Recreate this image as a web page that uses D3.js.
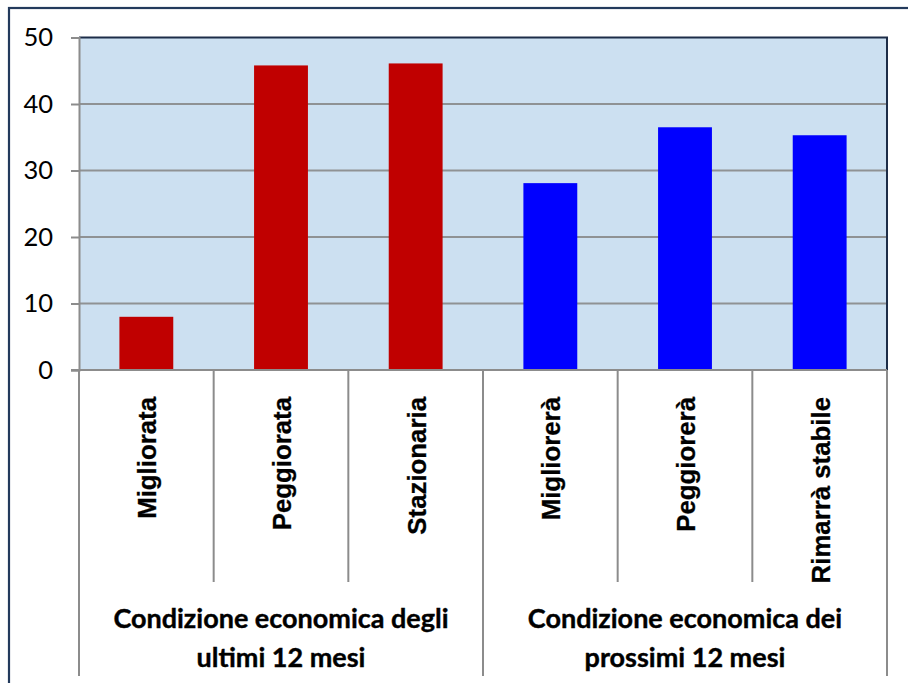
<!DOCTYPE html>
<html><head><meta charset="utf-8">
<script src="https://cdn.jsdelivr.net/npm/d3@7"></script>
<style>body{margin:0;background:#fff}svg{display:block}</style>
</head><body>
<script>
const categories = ["Migliorata","Peggiorata","Stazionaria","Migliorerà","Peggiorerà","Rimarrà stabile"];
const values = [8.0, 45.8, 46.1, 28.1, 36.5, 35.3];
const groupOf = [0,0,0,1,1,1];
const groupLabels = [["Condizione economica degli","ultimi 12 mesi"],["Condizione economica dei","prossimi 12 mesi"]];
const groupColors = ["#c00000","#0000ff"];
const yTicks = [0,10,20,30,40,50];

const W=908,H=683;
const svg=d3.select("body").append("svg").attr("width",W).attr("height",H);
svg.append("rect").attr("x",9).attr("y",8).attr("width",940).attr("height",720)
  .attr("fill","none").attr("stroke","#233a5c").attr("stroke-width",2.2);

const L=79,R=887,T=37.5,B=370;
const y=d3.scaleLinear().domain([0,50]).range([B,T]);
const xCat=d3.scaleBand().domain(categories).range([L,R]).padding(0);
const xBar=d3.scaleBand().domain(categories).range([L,R]).paddingInner(0.6).paddingOuter(0.3);

svg.append("rect").attr("x",L).attr("y",T).attr("width",R-L).attr("height",B-T).attr("fill","#cce0f1");
// grid
svg.append("g").selectAll("line").data(yTicks.filter(d=>d>0&&d<50)).join("line")
  .attr("x1",L).attr("x2",R).attr("y1",d=>y(d)).attr("y2",d=>y(d))
  .attr("stroke","#8f9294").attr("stroke-width",2);
// plot border top/right
svg.append("path").attr("d",`M${L},${y(50)}H${R}V${B}`).attr("fill","none").attr("stroke","#1d2d48").attr("stroke-width",2);
// bars
svg.append("g").selectAll("rect").data(categories).join("rect")
  .attr("x",d=>xBar(d)).attr("width",xBar.bandwidth())
  .attr("y",(d,i)=>y(values[i])).attr("height",(d,i)=>B-y(values[i]))
  .attr("fill",(d,i)=>groupColors[groupOf[i]]);
// y axis
const ya=svg.append("g").attr("transform",`translate(${L},0)`)
  .call(d3.axisLeft(y).tickValues(yTicks).tickSize(8).tickPadding(18));
ya.select(".domain").attr("stroke","#8c8c8c").attr("stroke-width",2);
ya.selectAll(".tick line").attr("stroke","#8c8c8c").attr("stroke-width",2);
ya.selectAll(".tick text").attr("font-family","Lato, 'Open Sans', sans-serif").attr("font-size",25.5).attr("fill","#000");
// bottom axis line
svg.append("line").attr("x1",L-8).attr("x2",R).attr("y1",B).attr("y2",B).attr("stroke","#8c8c8c").attr("stroke-width",2);
// dividers
const edges=[];
categories.forEach((c,i)=>{ if(i>0) edges.push({x:xCat(c),long:groupOf[i]!==groupOf[i-1]}); });
edges.unshift({x:L,long:true}); edges.push({x:R,long:true});
svg.append("g").selectAll("line").data(edges).join("line")
  .attr("x1",d=>d.x).attr("x2",d=>d.x).attr("y1",B).attr("y2",d=>d.long?676:582)
  .attr("stroke","#8c8c8c").attr("stroke-width",2);
// category labels rotated
svg.append("g").selectAll("text").data(categories).join("text")
  .attr("transform",d=>`translate(${xCat(d)+xCat.bandwidth()/2+10},397) rotate(-90)`)
  .attr("text-anchor","end").attr("font-family","'Liberation Sans', Arial, sans-serif")
  .attr("font-weight","bold").attr("font-size",25.8).attr("fill","#000")
  .attr("stroke","#000").attr("stroke-width",0.3).text(d=>d);
// group labels
groupLabels.forEach((lines,g)=>{
  const idx=groupOf.map((v,i)=>v===g?i:-1).filter(i=>i>=0);
  const x0=xCat(categories[idx[0]]), x1=xCat(categories[idx[idx.length-1]])+xCat.bandwidth();
  lines.forEach((t,k)=>{
    svg.append("text").attr("x",(x0+x1)/2).attr("y",628+k*38.5).attr("text-anchor","middle")
      .attr("font-family","Lato, 'Open Sans', sans-serif").attr("font-weight","bold").attr("font-size",27)
      .attr("fill","#000").attr("stroke","#000").attr("stroke-width",0.4).text(t);
  });
});
</script>
</body></html>
